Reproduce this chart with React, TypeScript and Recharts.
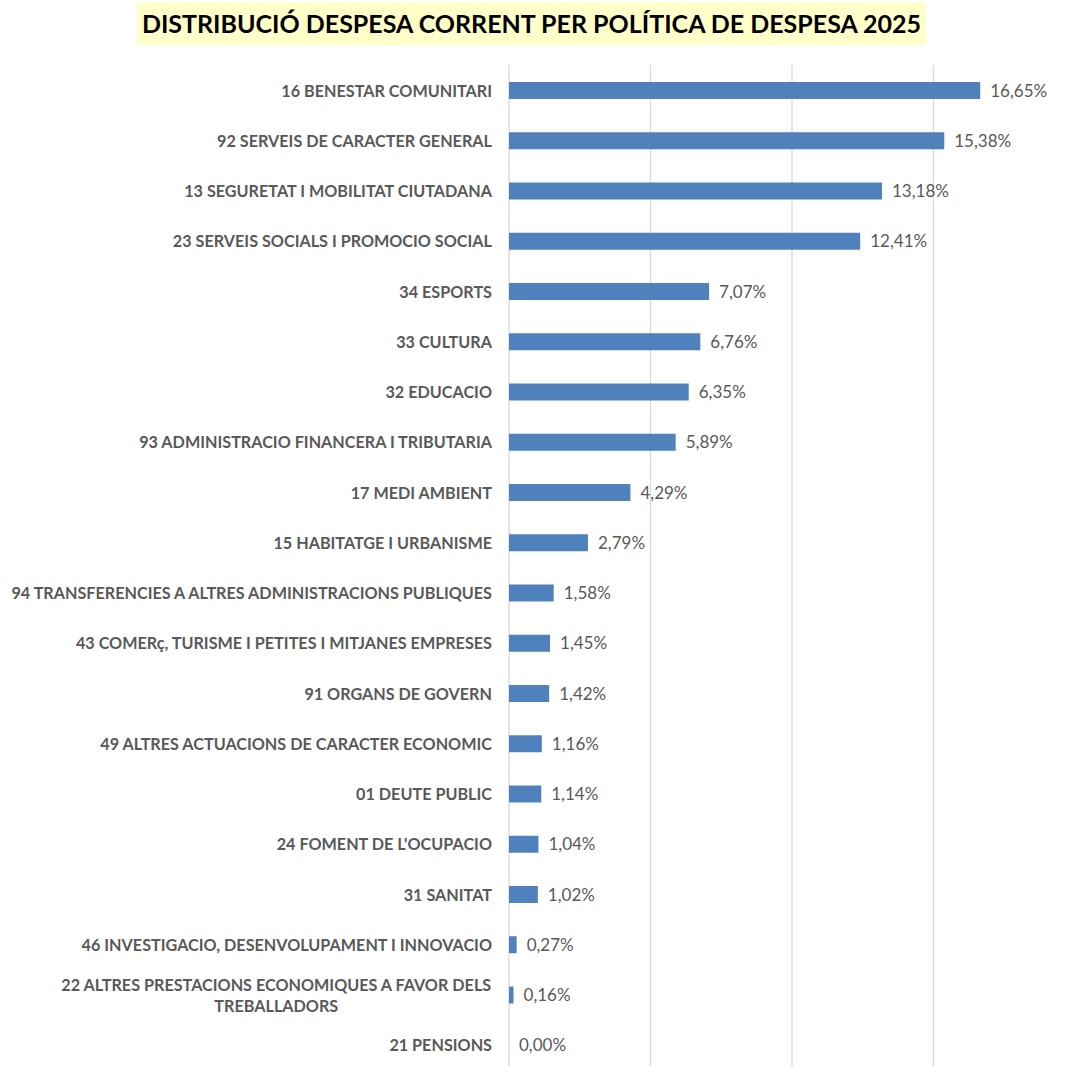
import React from "react";
import {
  BarChart,
  Bar,
  XAxis,
  YAxis,
  CartesianGrid,
  LabelList,
} from "recharts";

// Categories (top to bottom) and their share of current spending, in %
const categories = [
  "16 BENESTAR COMUNITARI",
  "92 SERVEIS DE CARACTER GENERAL",
  "13 SEGURETAT I MOBILITAT CIUTADANA",
  "23 SERVEIS SOCIALS I PROMOCIO SOCIAL",
  "34 ESPORTS",
  "33 CULTURA",
  "32 EDUCACIO",
  "93 ADMINISTRACIO FINANCERA I TRIBUTARIA",
  "17 MEDI AMBIENT",
  "15 HABITATGE I URBANISME",
  "94 TRANSFERENCIES A ALTRES ADMINISTRACIONS PUBLIQUES",
  "43 COMERç, TURISME I PETITES I MITJANES EMPRESES",
  "91 ORGANS DE GOVERN",
  "49 ALTRES ACTUACIONS DE CARACTER ECONOMIC",
  "01 DEUTE PUBLIC",
  "24 FOMENT DE L'OCUPACIO",
  "31 SANITAT",
  "46 INVESTIGACIO, DESENVOLUPAMENT I INNOVACIO",
  "22 ALTRES PRESTACIONS ECONOMIQUES A FAVOR DELS TREBALLADORS",
  "21 PENSIONS",
];

const values = [
  16.65, 15.38, 13.18, 12.41, 7.07, 6.76, 6.35, 5.89, 4.29, 2.79, 1.58, 1.45,
  1.42, 1.16, 1.14, 1.04, 1.02, 0.27, 0.16, 0.0,
];

const xTicks = [0, 5, 10, 15, 20];

const data = categories.map((name, i) => ({ name, value: values[i] }));

const FONT = "Lato, 'Noto Sans', sans-serif";
const LABEL_FONT_SIZE = 16.2;
const MAX_CHARS = 52;

// split long names into lines (Excel-like wrapping)
const wrap = (text: string) => {
  const words = text.split(" ");
  const lines: string[] = [];
  let cur = "";
  words.forEach((w) => {
    const next = cur ? cur + " " + w : w;
    if (next.length > MAX_CHARS && cur) {
      lines.push(cur);
      cur = w;
    } else {
      cur = next;
    }
  });
  if (cur) lines.push(cur);
  return lines;
};

let ctx: CanvasRenderingContext2D | null = null;
const measure = (text: string) => {
  if (!ctx) ctx = document.createElement("canvas").getContext("2d");
  if (!ctx) return text.length * 8;
  ctx.font = `bold ${LABEL_FONT_SIZE}px ${FONT}`;
  return ctx.measureText(text).width;
};

const CategoryTick = (props: any) => {
  const { x, y, payload } = props;
  const lines = wrap(String(payload.value));
  if (lines.length === 1) {
    return (
      <text
        x={x}
        y={y}
        textAnchor="end"
        dominantBaseline="central"
        fill="#595959"
        fontFamily={FONT}
        fontWeight="bold"
        fontSize={LABEL_FONT_SIZE}
      >
        {lines[0]}
      </text>
    );
  }
  const widest = Math.max(...lines.map(measure));
  const cx = x - widest / 2;
  const lh = 21;
  const y0 = y - ((lines.length - 1) * lh) / 2;
  return (
    <text
      x={cx}
      y={y0}
      textAnchor="middle"
      dominantBaseline="central"
      fill="#595959"
      fontFamily={FONT}
      fontWeight="bold"
      fontSize={LABEL_FONT_SIZE}
    >
      {lines.map((l, i) => (
        <tspan key={i} x={cx} y={y0 + i * lh}>
          {l}
        </tspan>
      ))}
    </text>
  );
};

const fmt = (v: any) => Number(v).toFixed(2).replace(".", ",") + "%";

const App = () => {
  return (
    <div
      style={{
        position: "absolute",
        left: 0,
        top: 0,
        width: 1065,
        height: 1066,
        overflow: "hidden",
        background: "#ffffff",
      }}
    >
      <div
        style={{
          position: "absolute",
          left: 137,
          top: 2,
          width: 789,
          height: 43,
          background: "#FFFFC9",
          textAlign: "center",
          lineHeight: "43px",
          fontFamily: FONT,
          fontWeight: "bold",
          fontSize: 25,
          color: "#000000",
          whiteSpace: "nowrap",
        }}
      >
        DISTRIBUCIÓ DESPESA CORRENT PER POLÍTICA DE DESPESA 2025
      </div>
      <BarChart
        width={1080}
        height={1080}
        data={data}
        layout="vertical"
        margin={{ top: 65, right: 5, left: 0, bottom: 10 }}
        barSize={17}
      >
        <CartesianGrid
          horizontal={false}
          stroke="#d9d9d9"
          strokeWidth={1.3}
        />
        <XAxis type="number" domain={[0, 20]} ticks={xTicks} hide />
        <YAxis
          type="category"
          dataKey="name"
          width={509}
          axisLine={false}
          tickLine={false}
          tickMargin={11}
          interval={0}
          tick={<CategoryTick />}
        />
        <Bar
          dataKey="value"
          fill="#4F81BD"
          minPointSize={0.01}
          isAnimationActive={false}
        >
          <LabelList
            dataKey="value"
            position="right"
            offset={10}
            formatter={fmt}
            fill="#595959"
            fontSize={17}
            fontFamily={FONT}
          />
        </Bar>
      </BarChart>
    </div>
  );
};

export default App;
